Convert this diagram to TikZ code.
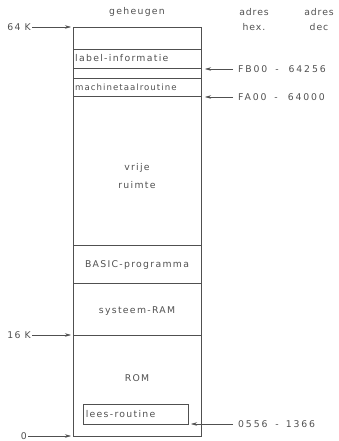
\documentclass[tikz,border=0pt]{standalone}
\usepackage{fontspec}
\setmainfont{DejaVu Sans}
\usetikzlibrary{arrows.meta}
\definecolor{ink}{RGB}{80, 80, 80}

\newcommand{\wijd}[1]{\fontsize{#1}{18}\selectfont\addfontfeature{LetterSpace=14}}

\begin{document}
\begin{tikzpicture}[x=1pt, y=-1pt,
    font=\wijd{9.3},
    every node/.style={text=ink, inner sep=1pt},
    wall/.style={ink, line width=0.6},
    pointer/.style={ink, line width=0.5, -{Stealth[length=6pt, width=3.5pt]}},
    addr/.style={anchor=west, font=\fontsize{9.3}{11}\selectfont\addfontfeature{LetterSpace=20}}]

  \useasboundingbox (0, 0) rectangle (339, 441);

  \pgfmathsetmacro{\xl}{73}
  \pgfmathsetmacro{\xr}{201}
  \pgfmathsetmacro{\xm}{(\xl + \xr) / 2}

  % geheugen
  \draw[wall] (\xl, 27) rectangle (\xr, 436);
  \foreach \y in {49, 68, 78, 96, 245, 283, 335}
    \draw[wall] (\xl, \y) -- (\xr, \y);

  \node (geheugen) at (\xm, 12) {geheugen};
  \node[align=center, font=\fontsize{9.3}{15}\selectfont\addfontfeature{LetterSpace=10}] (hexkop) at (254, 20) {adres\\hex.};
  \node[align=center, font=\fontsize{9.3}{15}\selectfont\addfontfeature{LetterSpace=10}] (deckop) at (319, 20) {adres\\dec};

  \node[anchor=west] (label) at (\xl + 1, 58) {label-informatie};
  \node[anchor=west, font=\fontsize{8.6}{10}\selectfont\addfontfeature{LetterSpace=12}] (machine) at (\xl + 1, 87) {machinetaalroutine};
  \node[align=center] (vrij) at (\xm, 176) {vrije\\ruimte};
  \node (basic) at (\xm, 265) {BASIC-programma};
  \node (sysram) at (\xm, 311) {systeem-RAM};
  \node (rom) at (\xm, 378) {ROM};
  \node[draw=ink, line width=0.6, anchor=north west, minimum width=105, minimum height=20,
        text width=100] (lees) at (\xl + 10, 404) {lees-routine};

  % grenzen
  \node[anchor=east] (k64) at (32, 27) {64 K};
  \node[anchor=east] (k16) at (32, 335) {16 K};
  \node[anchor=east] (nul) at (28, 436) {0};
  \coordinate (boven) at (\xl - 2, 27);
  \coordinate (midden) at (\xl - 2, 335);
  \coordinate (onder) at (\xl - 2, 436);
  \draw[pointer] (k64) -- (boven);
  \draw[pointer] (k16) -- (midden);
  \draw[pointer] (nul) -- (onder);

  % adressen
  \node[addr] (fb) at (237, 69) {FB00\hspace{8pt}-\hspace{10pt}64256};
  \node[addr] (fa) at (237, 97) {FA00\hspace{8pt}-\hspace{10pt}64000};
  \node[addr] (leesadr) at (237, 424) {0556\hspace{8pt}-\hspace{7pt}1366};
  \coordinate (fbpunt) at (\xr + 4, 69);
  \coordinate (fapunt) at (\xr + 4, 97);
  \coordinate (leespunt) at (191, 424);
  \draw[pointer, shorten <=4pt] (fb) -- (fbpunt);
  \draw[pointer, shorten <=4pt] (fa) -- (fapunt);
  \draw[pointer, shorten <=4pt] (leesadr) -- (leespunt);

\end{tikzpicture}
\end{document}
